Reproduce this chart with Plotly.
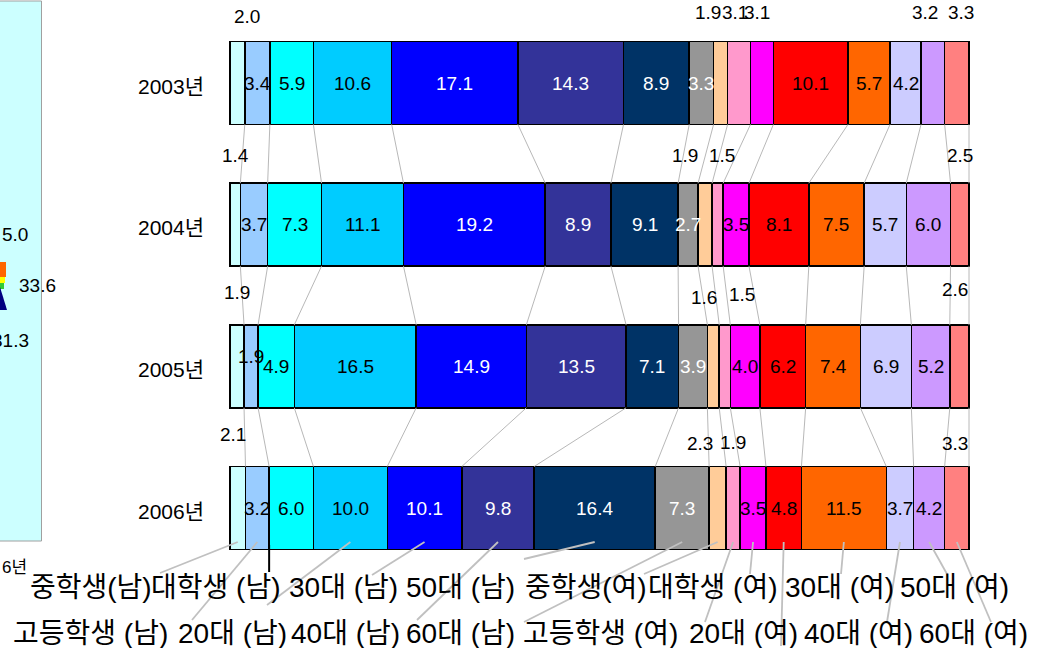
import plotly.graph_objects as go

# ---- data -------------------------------------------------------------
years = ["2003년", "2004년", "2005년", "2006년"]
categories = [
    "중학생(남)", "고등학생 (남)", "대학생 (남)", "20대 (남)",
    "30대 (남)", "40대 (남)", "50대 (남)", "60대 (남)",
    "중학생(여)", "고등학생 (여)", "대학생 (여)", "20대 (여)",
    "30대 (여)", "40대 (여)", "50대 (여)", "60대 (여)",
]
share_2003 = [2.0, 3.4, 5.9, 10.6, 17.1, 14.3, 8.9, 3.3, 1.9, 3.1, 3.1, 10.1, 5.7, 4.2, 3.2, 3.3]
share_2004 = [1.4, 3.7, 7.3, 11.1, 19.2, 8.9, 9.1, 2.7, 1.9, 1.5, 3.5, 8.1, 7.5, 5.7, 6.0, 2.5]
share_2005 = [1.9, 1.9, 4.9, 16.5, 14.9, 13.5, 7.1, 3.9, 1.6, 1.5, 4.0, 6.2, 7.4, 6.9, 5.2, 2.6]
share_2006 = [2.1, 3.2, 6.0, 10.0, 10.1, 9.8, 16.4, 7.3, 2.3, 1.9, 3.5, 4.8, 11.5, 3.7, 4.2, 3.3]
shares = [share_2003, share_2004, share_2005, share_2006]

# values of the neighbouring (cut-off) chart on the left
side_values = ["5.0", "33.6", "31.3"]
side_year = "6년"

# ---- style --------------------------------------------------------------
colors = [
    "#CCFFFF", "#99CCFF", "#00FFFF", "#00CCFF",
    "#0000FF", "#333399", "#003366", "#969696",
    "#FFCC99", "#FF99CC", "#FF00FF", "#FF0000",
    "#FF6600", "#CCCCFF", "#CC99FF", "#FF8080",
]
white_text = {4, 5, 6, 7}
FONT = "Liberation Sans, Noto Sans CJK KR, sans-serif"
VALUE_SIZE, YEAR_SIZE, CAT_SIZE = 19, 21, 28

# labels drawn above the bar (year index, category index) -> (dx, dy) pixel nudges
outside = {
    (0, 0): (10, 3), (0, 8): (-13, -1), (0, 9): (-4, -1), (0, 10): (-5, -1),
    (0, 14): (-8, -1), (0, 15): (4, -1),
    (1, 0): (0, 0), (1, 8): (-20, 0), (1, 9): (4, 0), (1, 15): (0, 0),
    (2, 0): (0, -4), (2, 8): (-9, 1), (2, 9): (17, -2), (2, 15): (-4, -7),
    (3, 0): (-5, -4), (3, 8): (-18, 5), (3, 9): (0, 4), (3, 15): (-2, 5),
}
inside_nudge = {(2, 1): (0, -10)}

# ---- geometry (pixels of the 1038 x 648 page) ---------------------------
W, H = 1038, 648
X0_PX, X100_PX = 230, 969
PX_PER_PCT = (X100_PX - X0_PX) / 100.0
ROW0_PX, ROW_STEP_PX, BAR_PX = 83, 141.67, 83


def xd(px):
    return (px - X0_PX) / PX_PER_PCT


def yd(py):
    return (py - ROW0_PX) / ROW_STEP_PX


bar_w = BAR_PX / ROW_STEP_PX
half = bar_w / 2
ypos = list(range(len(years)))

# normalised cumulative boundaries per year
cum_end, mids = [], []
for vals in shares:
    tot = sum(vals)
    acc, ends, ms = 0.0, [], []
    for v in vals:
        ms.append((acc + v / 2) / tot * 100)
        acc += v
        ends.append(acc / tot * 100)
    cum_end.append(ends)
    mids.append(ms)

fig = go.Figure()

# stacked 100% bars
for j, cat in enumerate(categories):
    fig.add_trace(go.Bar(
        orientation="h", y=ypos, x=[shares[i][j] for i in ypos], name=cat,
        width=bar_w, marker=dict(color=colors[j], line=dict(color="#000000", width=1.5)),
        showlegend=False, hoverinfo="skip",
    ))

# series lines joining segment boundaries of consecutive years
sx, sy = [], []
for i in range(len(years) - 1):
    for k in range(len(categories)):
        sx += [cum_end[i][k], cum_end[i + 1][k], None]
        sy += [i + half, i + 1 - half, None]
fig.add_trace(go.Scatter(x=sx, y=sy, mode="lines", line=dict(color="#B8B8B8", width=1),
                         showlegend=False, hoverinfo="skip"))

# category labels under the chart with leader lines from the last bar
label_row = {0: 587, 1: 633}
label_layout = [  # (centre x px, row, leader end x px, leader end y px)
    (91, 0, 160, 573), (90, 1, 192, 620), (215, 0, 267, 572), (232, 1, 267, 605),
    (343, 0, 372, 575), (345, 1, 417, 620), (460, 0, 524, 559), (460, 1, 524, 622),
    (586, 0, 644, 574), (600, 1, 705, 622), (712, 0, 750, 574), (743, 1, 781, 646),
    (839, 0, 841, 574), (858, 1, 887, 622), (954, 0, 947, 574), (973, 1, 991, 622),
]
last = len(years) - 1
lx, ly = [], []
for j, (cx, row, ex, ey) in enumerate(label_layout):
    if j == 2:
        continue
    lx += [mids[last][j], xd(ex), None]
    ly += [yd(542), yd(ey), None]
fig.add_trace(go.Scatter(x=lx, y=ly, mode="lines", line=dict(color="#C0C0C0", width=1.8),
                         showlegend=False, hoverinfo="skip"))
# the 대학생 (남) leader is a short black tick at the left edge of its segment
bx = cum_end[last][1]
fig.add_trace(go.Scatter(x=[bx, bx], y=[yd(545), yd(label_layout[2][3])], mode="lines",
                         line=dict(color="#000000", width=2), showlegend=False, hoverinfo="skip"))

ann = []
# value labels
for i in ypos:
    for j, v in enumerate(shares[i]):
        if (i, j) in outside:
            dx, dy = outside[(i, j)]
            y = i - half - 28 / ROW_STEP_PX
            col = "#000000"
        else:
            dx, dy = inside_nudge.get((i, j), (0, 0))
            y = i
            col = "#FFFFFF" if j in white_text else "#000000"
        ann.append(dict(x=mids[i][j], y=y, xref="x", yref="y", text=f"{v:.1f}",
                        showarrow=False, xshift=dx, yshift=-dy,
                        font=dict(family=FONT, size=VALUE_SIZE, color=col)))
# year labels
for i, yr in enumerate(years):
    ann.append(dict(x=xd(206), y=i, xref="x", yref="y", text=yr, showarrow=False,
                    xanchor="right", yshift=-3,
                    font=dict(family=FONT, size=YEAR_SIZE, color="#000000")))
# category labels
for j, (cx, row, ex, ey) in enumerate(label_layout):
    ann.append(dict(x=cx / W, y=1 - label_row[row] / H, xref="paper", yref="paper",
                    text=categories[j], showarrow=False, xanchor="center", yanchor="middle",
                    font=dict(family=FONT, size=CAT_SIZE, color="#000000")))

# neighbouring chart fragment on the left edge
shapes = [
    dict(type="rect", xref="paper", yref="paper", x0=-0.01, x1=41.5 / W,
         y0=1 - 541 / H, y1=1 - 1 / H, fillcolor="#CCFFFF",
         line=dict(color="#A0A0A0", width=1), layer="below"),
    dict(type="rect", xref="paper", yref="paper", x0=0, x1=6 / W,
         y0=1 - 277 / H, y1=1 - 262 / H, fillcolor="#FF6600", line=dict(width=0)),
    dict(type="rect", xref="paper", yref="paper", x0=0, x1=5 / W,
         y0=1 - 283 / H, y1=1 - 277 / H, fillcolor="#FFFF00", line=dict(width=0)),
    dict(type="rect", xref="paper", yref="paper", x0=0, x1=4 / W,
         y0=1 - 289 / H, y1=1 - 283 / H, fillcolor="#33CC33", line=dict(width=0)),
    dict(type="path", xref="paper", yref="paper",
         path=f"M 0,{1 - 287 / H} L {7 / W},{1 - 310 / H} L 0,{1 - 310 / H} Z",
         fillcolor="#000080", line=dict(width=0)),
]
side_pos = [(0, 235, "left"), (17, 285, "left"), (31, 340, "right")]
for txt, (px, py, anc) in zip(side_values, side_pos):
    ann.append(dict(x=px / W, y=1 - py / H, xref="paper", yref="paper", text=txt,
                    showarrow=False, xanchor=anc, yanchor="middle",
                    font=dict(family=FONT, size=19, color="#000000")))
ann.append(dict(x=0, y=1 - 567 / H, xref="paper", yref="paper", text=side_year,
                showarrow=False, xanchor="left", yanchor="middle",
                font=dict(family=FONT, size=17, color="#000000")))

fig.update_layout(
    width=W, height=H, margin=dict(l=0, r=0, t=0, b=0),
    paper_bgcolor="#FFFFFF", plot_bgcolor="#FFFFFF",
    barmode="stack", barnorm="percent",
    xaxis=dict(visible=False, range=[xd(0), xd(W)], domain=[0, 1]),
    yaxis=dict(visible=False, range=[yd(H), yd(0)], domain=[0, 1]),
    annotations=ann, shapes=shapes, showlegend=False,
)

fig.write_html("out.html")
